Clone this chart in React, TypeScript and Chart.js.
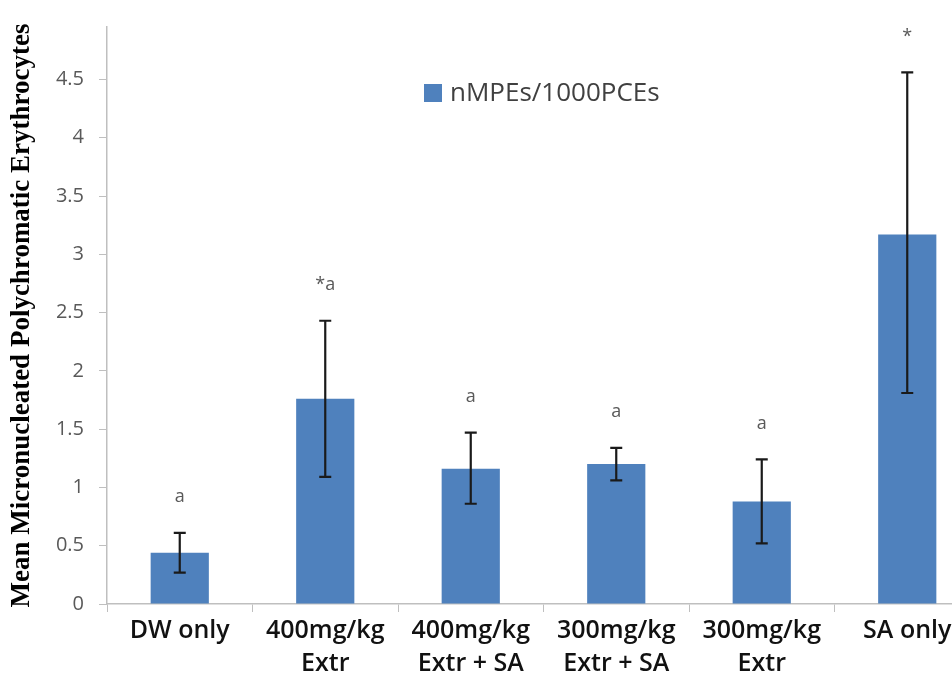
import React, { useEffect, useRef } from "react";
import { Chart, registerables } from "chart.js";

Chart.register(...registerables);

const categories: string[][] = [
  ["DW only"],
  ["400mg/kg", "Extr"],
  ["400mg/kg", "Extr + SA"],
  ["300mg/kg", "Extr + SA"],
  ["300mg/kg", "Extr"],
  ["SA only"],
];
const seriesName = "nMPEs/1000PCEs";
const means = [0.44, 1.76, 1.16, 1.2, 0.88, 3.17];
const errLow = [0.27, 1.09, 0.86, 1.06, 0.52, 1.81];
const errHigh = [0.61, 2.43, 1.47, 1.34, 1.24, 4.56];
const sigLabels = ["a", "*a", "a", "a", "a", "*"];
const yTicks = [0, 0.5, 1, 1.5, 2, 2.5, 3, 3.5, 4, 4.5];
const yTitle = "Mean Micronucleated Polychromatic Erythrocytes";

const BAR_COLOR = "#4f81bd";

const errorBarPlugin = {
  id: "errorBars",
  afterDatasetsDraw(chart: any) {
    const ctx = chart.ctx;
    const meta = chart.getDatasetMeta(0);
    const y = chart.scales.y;
    ctx.save();
    meta.data.forEach((bar: any, i: number) => {
      const x = bar.x;
      const yHi = y.getPixelForValue(errHigh[i]);
      const yLo = y.getPixelForValue(errLow[i]);
      ctx.strokeStyle = "#1a1a1a";
      ctx.lineWidth = 2.2;
      ctx.beginPath();
      ctx.moveTo(x, yHi);
      ctx.lineTo(x, yLo);
      ctx.moveTo(x - 6, yHi);
      ctx.lineTo(x + 6, yHi);
      ctx.moveTo(x - 6, yLo);
      ctx.lineTo(x + 6, yLo);
      ctx.stroke();
      ctx.fillStyle = "#595959";
      ctx.font = "18px 'Open Sans'";
      ctx.textAlign = "center";
      ctx.textBaseline = "middle";
      ctx.fillText(sigLabels[i], x, yHi - 36);
    });
    ctx.restore();
  },
};

const legendPlugin = {
  id: "customLegend",
  afterDraw(chart: any) {
    const ctx = chart.ctx;
    ctx.save();
    const x0 = 424;
    const y0 = 93;
    ctx.fillStyle = BAR_COLOR;
    ctx.fillRect(x0, y0 - 9, 18, 18);
    ctx.fillStyle = "#404040";
    ctx.font = "26px 'Open Sans'";
    ctx.textAlign = "left";
    ctx.textBaseline = "middle";
    ctx.fillText(seriesName, x0 + 26, y0 + 1);
    ctx.restore();
  },
};

export default function App() {
  const ref = useRef<HTMLCanvasElement | null>(null);
  useEffect(() => {
    if (!ref.current) return;
    const chart = new Chart(ref.current, {
      type: "bar",
      data: {
        labels: categories,
        datasets: [
          {
            label: seriesName,
            data: means,
            backgroundColor: BAR_COLOR,
            borderWidth: 0,
            barPercentage: 0.4,
            categoryPercentage: 1,
          },
        ],
      },
      options: {
        animation: false,
        responsive: false,
        maintainAspectRatio: false,
        layout: { padding: { top: 8, right: 20, left: 0, bottom: 0 } },
        plugins: {
          legend: { display: false },
          tooltip: { enabled: false },
        },
        scales: {
          x: {
            offset: true,
            grid: {
              offset: true,
              drawOnChartArea: false,
              drawTicks: true,
              tickLength: 8,
              color: "#bfbfbf",
            },
            border: { color: "#bfbfbf", width: 1.5 },
            ticks: {
              color: "#111111",
              font: { family: "'Open Sans'", size: 25, weight: "600", lineHeight: 1.3 },
              padding: 3,
              maxRotation: 0,
              autoSkip: false,
            },
            afterFit(scale: any) {
              scale.height = 82;
            },
          },
          y: {
            min: 0,
            max: 4.95,
            afterBuildTicks(scale: any) {
              scale.ticks = yTicks.map((v) => ({ value: v }));
            },
            grid: {
              drawOnChartArea: false,
              drawTicks: true,
              tickLength: 8,
              color: "#bfbfbf",
            },
            border: { color: "#bfbfbf", width: 1.5 },
            ticks: {
              color: "#595959",
              font: { family: "'Open Sans'", size: 20 },
              padding: 15,
              callback: (v: any) => String(v),
            },
            title: {
              display: true,
              text: yTitle,
              color: "#000000",
              font: { family: "'Liberation Serif'", size: 27, weight: "bold" },
              padding: { top: 6, bottom: 0 },
            },
            afterFit(scale: any) {
              scale.width = 107;
            },
          },
        },
      },
      plugins: [errorBarPlugin, legendPlugin],
    });
    return () => chart.destroy();
  }, []);
  return (
    <div
      style={{
        position: "fixed",
        left: 0,
        top: 0,
        width: 952,
        height: 686,
        overflow: "hidden",
        background: "#ffffff",
      }}
    >
      <canvas ref={ref} width={1000} height={686} style={{ display: "block" }} />
    </div>
  );
}
